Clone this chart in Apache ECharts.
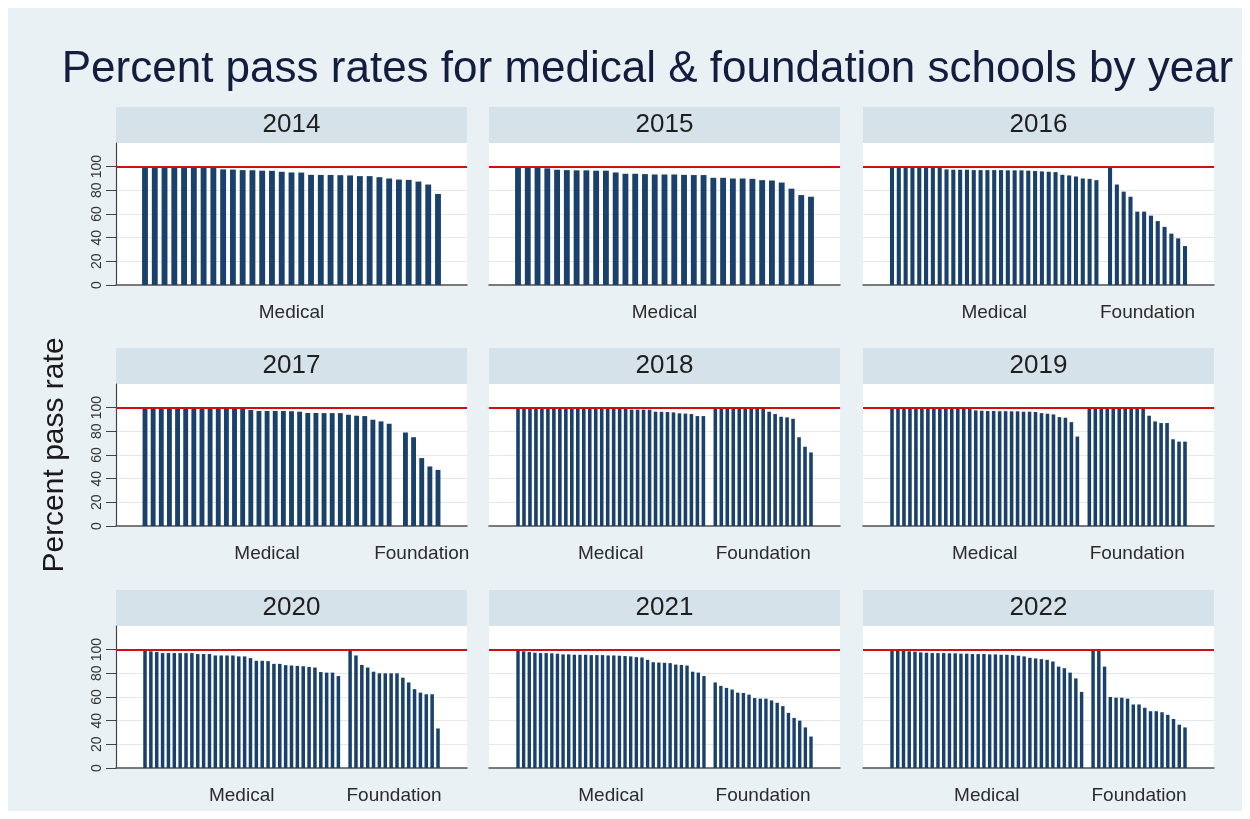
<!DOCTYPE html>
<html>
<head>
    <meta charset="utf-8">
    <title>Percent pass rates for medical &amp; foundation schools by year</title>
    <script src="https://cdn.jsdelivr.net/npm/echarts@6.0.0/dist/echarts.min.js"></script>
    <style>
        html, body { margin: 0; padding: 0; background: #ffffff; }
        #main {
            position: absolute;
            left: 8px;
            top: 8px;
            width: 1234px;
            height: 803px;
            background: #eaf1f4;
        }
    </style>
</head>
<body>
    <div id="main"></div>
    <script>
        var myChart = echarts.init(document.getElementById('main'));

        // panel years
        const years = ['2014', '2015', '2016', '2017', '2018', '2019', '2020', '2021', '2022'];
        const groupNames = ['Medical', 'Foundation'];
        const yTicks = [0, 20, 40, 60, 80, 100];
        const target = 100;

        // pass rates per school, sorted high to low
        const med2014 = [100, 100, 100, 100, 100, 100, 100, 100, 97.7, 97.5, 97.1, 97, 96.6, 96.5, 95.7, 95.1, 95, 93.1, 93, 93, 92.8, 92.6, 92, 92, 91.1, 90, 89.1, 88.8, 87.4, 84.9, 76.9];
        const fnd2014 = [];
        const med2015 = [100, 100, 99.1, 98.6, 97.4, 97.1, 96.9, 96.9, 96.6, 96.6, 95.1, 94, 94, 93.7, 93.4, 93.4, 93.4, 93.1, 92.9, 92.9, 90.6, 90.6, 90, 90, 89.7, 88.6, 88.3, 86.6, 81.4, 76, 74.6];
        const fnd2015 = [];
        const med2016 = [100, 100, 100, 100, 100, 99.7, 99.4, 99.1, 97.7, 97.4, 97.4, 97.4, 97.1, 97.1, 97.1, 97.1, 97.1, 96.9, 96.9, 96.9, 96.6, 96.3, 96, 95.7, 95.4, 93.1, 92.6, 91.7, 90, 89.7, 88.6];
        const fnd2016 = [100, 84.9, 78.9, 74.6, 62, 62, 58.6, 54, 49.1, 43.4, 39.4, 32.9];
        const med2017 = [100, 100, 100, 100, 100, 100, 100, 100, 99.4, 99.4, 99.1, 99.1, 98.9, 98, 97.2, 97.2, 97.2, 97.2, 97, 96.6, 95.5, 95.5, 95.4, 95.4, 95.4, 94, 93.2, 92.9, 89.8, 88.4, 86.4];
        const fnd2017 = [79, 75, 57.4, 50.3, 47.4];
        const med2018 = [100, 100, 100, 100, 100, 100, 100, 100, 100, 100, 100, 100, 99.4, 99.4, 99.4, 99.4, 99.4, 99.4, 99.4, 98.3, 98.3, 98.3, 98.3, 96.6, 96.5, 96.3, 96, 95.2, 95, 94.6, 92.9, 92.9];
        const fnd2018 = [100, 100, 100, 100, 100, 100, 100, 100, 100, 96.6, 94.6, 92.3, 91.8, 90.6, 75, 67, 62.2];
        const med2019 = [100, 100, 100, 100, 100, 100, 100, 100, 100, 100, 100, 100, 100, 99.4, 97.7, 97.4, 97.2, 97.2, 97, 97, 96.9, 96.9, 96.6, 96.6, 96.3, 95.4, 94.9, 94.3, 92, 91.5, 87.8, 75.6];
        const fnd2019 = [100, 100, 100, 100, 100, 100, 100, 100, 100, 100, 93.2, 88.4, 87, 87, 73.3, 71.3, 71.3];
        const med2020 = [99.1, 98.6, 98, 97.1, 97.1, 97.1, 97.1, 97.1, 97.1, 96.3, 96.3, 96.3, 95.1, 95.1, 95.1, 95.1, 94.3, 94.3, 92.9, 90.6, 90.6, 90.3, 88, 88, 86.9, 86.6, 86.3, 86, 85.4, 84.9, 81.1, 80.6, 80.6, 77.7];
        const fnd2020 = [100, 95.1, 87.1, 84.9, 81.4, 80, 80, 80, 80, 76.3, 72.3, 66.6, 63.7, 62.3, 62.3, 33.4];
        const med2021 = [99.4, 98.6, 98, 97.4, 97.1, 97.1, 96.9, 96.6, 96, 96, 95.7, 95.7, 95.7, 95.4, 95.4, 95.4, 95.1, 95.1, 94.9, 94.6, 94.3, 93.7, 93.4, 91.4, 89.4, 89.1, 88.9, 88.6, 87.4, 87.1, 86.6, 81.4, 80.6, 77.7];
        const fnd2021 = [72.3, 69.4, 67.7, 66.3, 63.7, 63.4, 62, 59.1, 58.6, 58.6, 57.1, 55.1, 52.3, 46.6, 42.3, 40, 34.3, 26.6];
        const med2022 = [100, 99.4, 99.1, 98.6, 98.3, 97.7, 97.4, 97.1, 97.1, 97.1, 96.9, 96.9, 96.6, 96.6, 96.3, 96.3, 96.3, 96, 96, 95.7, 95.7, 95.4, 94.9, 94.3, 93.1, 92.6, 92, 91.4, 90, 85.7, 84.3, 80.6, 75.7, 64.3];
        const fnd2022 = [100, 100, 85.7, 60, 59.4, 59.4, 58.6, 53.7, 53.7, 50.9, 48, 48, 47.1, 44.9, 41.4, 36.6, 34.3];

        const medical = [med2014, med2015, med2016, med2017, med2018, med2019, med2020, med2021, med2022];
        const foundation = [fnd2014, fnd2015, fnd2016, fnd2017, fnd2018, fnd2019, fnd2020, fnd2021, fnd2022];

        // layout (chart coordinates)
        const colLeft = [108, 481, 855];
        const rowTop = [99, 340, 582];
        const stripH = 36;
        const plotW = 351;
        const plotH = 142;
        const edge = 29;   // px from plot edge to first/last bar centre

        const FONT = '"Liberation Sans", Arial, sans-serif';
        const barColor = '#1a416b';
        const lineColor = '#d01010';

        var grids = [], xAxes = [], yAxes = [], series = [], graphics = [];

        years.forEach(function (year, k) {
            const col = k % 3, row = Math.floor(k / 3);
            const med = medical[k], fnd = foundation[k];
            const slots = med.length + (fnd.length ? fnd.length + 1 : 0);
            const step = (plotW - 2 * edge) / (slots - 1);

            // bars: medical first, one empty slot, then foundation
            const data = [];
            med.forEach(function (v, i) { data.push([i, v]); });
            fnd.forEach(function (v, j) { data.push([med.length + 1 + j, v]); });

            const centers = [(med.length - 1) / 2];
            if (fnd.length) centers.push(med.length + 1 + (fnd.length - 1) / 2);

            grids.push({
                left: colLeft[col],
                top: rowTop[row] + stripH,
                width: plotW,
                height: plotH,
                show: true,
                backgroundColor: '#ffffff',
                borderWidth: 0
            });

            xAxes.push({
                gridIndex: k,
                type: 'value',
                min: -edge / step,
                max: slots - 1 + edge / step,
                axisLine: { show: true, onZero: false, lineStyle: { color: '#505050', width: 1.5 } },
                axisTick: { show: false },
                splitLine: { show: false },
                axisLabel: {
                    customValues: centers,
                    margin: 18,
                    fontFamily: FONT,
                    fontSize: 19,
                    color: '#2b2b2b',
                    formatter: function (v) {
                        return Math.abs(v - centers[0]) < 0.01 ? groupNames[0] : groupNames[1];
                    }
                }
            });

            yAxes.push({
                gridIndex: k,
                type: 'value',
                min: 0,
                max: 120,
                interval: 20,
                name: k === 3 ? 'Percent pass rate' : '',
                nameLocation: 'middle',
                nameRotate: 90,
                nameGap: 46,
                nameTextStyle: { fontFamily: FONT, fontSize: 30, color: '#1a1a1a' },
                axisLine: { show: col === 0, onZero: false, lineStyle: { color: '#444444', width: 1.2 } },
                axisTick: { show: col === 0, customValues: yTicks, length: 10, lineStyle: { color: '#444444' } },
                axisLabel: {
                    show: col === 0,
                    customValues: yTicks,
                    rotate: 90,
                    margin: 12,
                    fontFamily: FONT,
                    fontSize: 14,
                    color: '#333333'
                },
                splitLine: {
                    show: true,
                    lineStyle: { color: ['rgba(0,0,0,0)', '#e4e8ea', '#e4e8ea', '#e4e8ea', '#e4e8ea', 'rgba(0,0,0,0)', 'rgba(0,0,0,0)'], width: 1 }
                }
            });

            series.push({
                type: 'bar',
                xAxisIndex: k,
                yAxisIndex: k,
                data: data,
                barWidth: step * 0.6,
                itemStyle: { color: barColor },
                markLine: {
                    silent: true,
                    symbol: 'none',
                    label: { show: false },
                    lineStyle: { color: lineColor, width: 2, type: 'solid' },
                    data: [{ yAxis: target }]
                }
            });

            // header strip with year
            graphics.push({
                type: 'rect',
                left: colLeft[col],
                top: rowTop[row],
                shape: { width: plotW, height: stripH },
                style: { fill: '#d6e2e9' }
            });
            graphics.push({
                type: 'text',
                x: colLeft[col] + plotW / 2,
                y: rowTop[row] + stripH / 2,
                style: {
                    text: year,
                    font: '26px ' + FONT,
                    fill: '#1e1e1e',
                    textAlign: 'center',
                    textVerticalAlign: 'middle'
                }
            });
        });

        graphics.push({
            type: 'text',
            x: 639.5,
            y: 62,
            style: {
                text: 'Percent pass rates for medical & foundation schools by year',
                font: '44px ' + FONT,
                fill: '#141d3d',
                textAlign: 'center',
                textVerticalAlign: 'middle'
            }
        });

        myChart.setOption({
            animation: false,
            grid: grids,
            xAxis: xAxes,
            yAxis: yAxes,
            series: series,
            graphic: graphics
        });

        window.addEventListener('resize', function () {
            myChart.resize();
        });
    </script>
</body>
</html>
